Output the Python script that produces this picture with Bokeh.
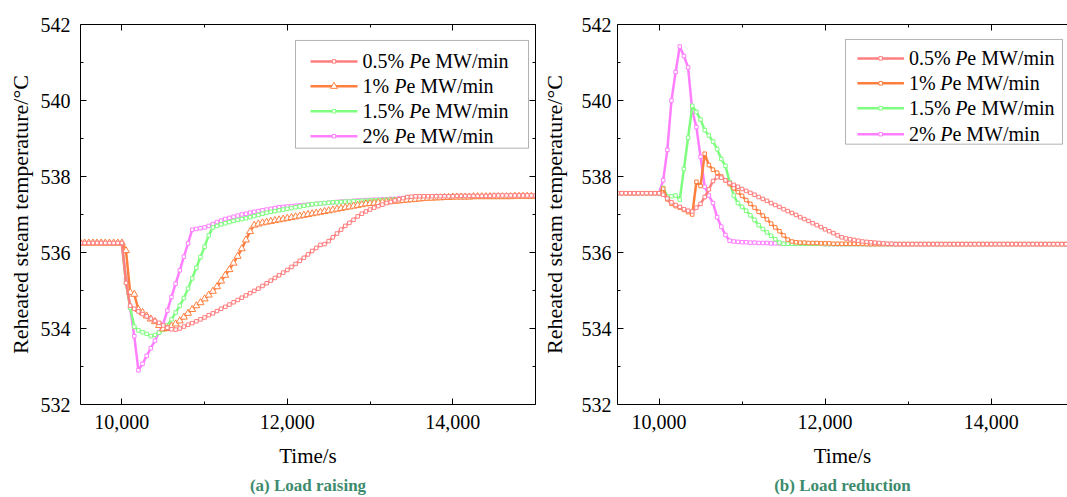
from bokeh.plotting import figure
from bokeh.layouts import row
from bokeh.models import (LinearAxis, FixedTicker, NumeralTickFormatter, Range1d,
                          BoxAnnotation, Label, Title, ColumnDataSource, CustomJSTickFormatter)
from bokeh.embed import file_html
from bokeh.resources import INLINE

# ---------------- data ----------------
time_s = list(range(9500, 15001, 50))

series_labels = ["0.5% ", "1% ", "1.5% ", "2% "]
y_ticks = [532, 534, 536, 538, 540, 542]
x_ticks = [10000, 12000, 14000]

# (a) Load raising
raise_05 = [
    536.25, 536.25, 536.25, 536.25, 536.25, 536.25, 536.25, 536.25, 536.25, 536.25,
    536.25, 535.2, 534.6, 534.52, 534.45, 534.38, 534.32, 534.26, 534.2, 534.15,
    534.08, 534.02, 533.98, 533.97, 534.0, 534.05, 534.1, 534.14, 534.19, 534.24,
    534.29, 534.35, 534.4, 534.46, 534.52, 534.57, 534.63, 534.69, 534.75, 534.81,
    534.87, 534.93, 534.99, 535.05, 535.12, 535.19, 535.26, 535.33, 535.4, 535.47,
    535.54, 535.62, 535.7, 535.78, 535.86, 535.95, 536.04, 536.12, 536.2, 536.22,
    536.3, 536.4, 536.5, 536.6, 536.7, 536.78, 536.86, 536.95, 537.02, 537.08,
    537.13, 537.18, 537.22, 537.26, 537.3, 537.33, 537.37, 537.4, 537.43, 537.46,
    537.47, 537.48, 537.48, 537.48, 537.48, 537.48, 537.48, 537.48, 537.48, 537.48,
    537.48, 537.49, 537.49, 537.49, 537.49, 537.49, 537.49, 537.49, 537.49, 537.49,
    537.5, 537.5, 537.5, 537.5, 537.5, 537.5, 537.5, 537.5, 537.5, 537.5,
    537.5,
]
raise_10 = [
    536.25, 536.25, 536.25, 536.25, 536.25, 536.25, 536.25, 536.25, 536.25, 536.25,
    536.25, 536.05, 534.95, 534.9, 534.5, 534.42, 534.33, 534.25, 534.18, 534.08,
    533.99, 534.0, 534.06, 534.12, 534.2, 534.3, 534.4, 534.5, 534.6, 534.68,
    534.78, 534.88, 534.98, 535.1, 535.25, 535.4, 535.55, 535.72, 535.9, 536.1,
    536.33, 536.55, 536.72, 536.75, 536.78, 536.8, 536.82, 536.84, 536.86, 536.88,
    536.9, 536.92, 536.94, 536.96, 536.98, 537.0, 537.02, 537.04, 537.06, 537.08,
    537.1, 537.12, 537.14, 537.16, 537.18, 537.2, 537.22, 537.24, 537.26, 537.28,
    537.29, 537.3, 537.31, 537.32, 537.33, 537.34, 537.35, 537.36, 537.37, 537.38,
    537.39, 537.4, 537.41, 537.42, 537.43, 537.43, 537.44, 537.44, 537.45, 537.45,
    537.46, 537.46, 537.46, 537.46, 537.46, 537.47, 537.47, 537.47, 537.47, 537.47,
    537.47, 537.47, 537.47, 537.47, 537.47, 537.48, 537.48, 537.48, 537.48, 537.48,
    537.48,
]
raise_15 = [
    536.25, 536.25, 536.25, 536.25, 536.25, 536.25, 536.25, 536.25, 536.25, 536.25,
    536.25, 535.2, 534.55, 534.05, 533.95, 533.9, 533.86, 533.8, 533.83, 533.89,
    533.97, 534.08, 534.24, 534.42, 534.6, 534.8, 535.05, 535.32, 535.6, 535.88,
    536.15, 536.45, 536.66, 536.7, 536.74, 536.77, 536.8, 536.83, 536.86, 536.88,
    536.9, 536.93, 536.96, 536.99, 537.02, 537.05, 537.07, 537.09, 537.11, 537.13,
    537.15, 537.17, 537.19, 537.21, 537.23, 537.25, 537.27, 537.28, 537.29, 537.3,
    537.31, 537.32, 537.32, 537.33, 537.34, 537.34, 537.35, 537.35, 537.36, 537.36,
    537.37, 537.37, 537.38, 537.38, 537.39, 537.39, 537.4, 537.4, 537.41, 537.42,
    537.43, 537.44, 537.44, 537.45, 537.45, 537.46, 537.46, 537.47, 537.47, 537.47,
    537.48, 537.48, 537.48, 537.48, 537.48, 537.48, 537.48, 537.48, 537.48, 537.48,
    537.49, 537.49, 537.49, 537.49, 537.49, 537.49, 537.49, 537.49, 537.49, 537.49,
    537.49,
]
raise_20 = [
    536.25, 536.25, 536.25, 536.25, 536.25, 536.25, 536.25, 536.25, 536.25, 536.25,
    536.25, 535.3, 534.55, 533.8, 532.9, 533.07, 533.28, 533.48, 533.68, 533.9,
    534.12, 534.47, 534.83, 535.18, 535.53, 535.89, 536.24, 536.6, 536.62, 536.64,
    536.66, 536.7, 536.75, 536.8, 536.84, 536.88, 536.91, 536.94, 536.97, 537.0,
    537.02, 537.05, 537.07, 537.09, 537.11, 537.13, 537.15, 537.17, 537.19, 537.2,
    537.21, 537.22, 537.23, 537.24, 537.25, 537.26, 537.27, 537.28, 537.29, 537.3,
    537.31, 537.32, 537.33, 537.34, 537.35, 537.35, 537.36, 537.37, 537.37, 537.38,
    537.38, 537.39, 537.39, 537.4, 537.4, 537.41, 537.41, 537.42, 537.42, 537.43,
    537.44, 537.44, 537.45, 537.45, 537.46, 537.46, 537.47, 537.47, 537.47, 537.48,
    537.48, 537.48, 537.48, 537.48, 537.48, 537.48, 537.48, 537.48, 537.48, 537.48,
    537.49, 537.49, 537.49, 537.49, 537.49, 537.49, 537.49, 537.49, 537.49, 537.49,
    537.49,
]

# (b) Load reduction
reduce_05 = [
    537.56, 537.56, 537.56, 537.56, 537.56, 537.56, 537.56, 537.56, 537.56, 537.56,
    537.56, 537.52, 537.42, 537.32, 537.25, 537.2, 537.14, 537.1, 537.08, 537.18,
    537.28, 537.46, 537.66, 537.88, 537.98, 537.97, 537.9, 537.83, 537.78, 537.73,
    537.67, 537.62, 537.57, 537.52, 537.46, 537.41, 537.36, 537.3, 537.25, 537.2,
    537.14, 537.09, 537.04, 536.99, 536.93, 536.88, 536.83, 536.77, 536.72, 536.67,
    536.61, 536.56, 536.51, 536.45, 536.4, 536.37, 536.35, 536.33, 536.31, 536.29,
    536.28, 536.27, 536.26, 536.25, 536.24, 536.23, 536.23, 536.22, 536.22, 536.22,
    536.22, 536.22, 536.22, 536.22, 536.22, 536.22, 536.22, 536.22, 536.22, 536.22,
    536.22, 536.22, 536.22, 536.22, 536.22, 536.22, 536.22, 536.22, 536.22, 536.22,
    536.22, 536.22, 536.22, 536.22, 536.22, 536.22, 536.22, 536.22, 536.22, 536.22,
    536.22, 536.22, 536.22, 536.22, 536.22, 536.22, 536.22, 536.22, 536.22, 536.22,
    536.22,
]
reduce_10 = [
    537.56, 537.56, 537.56, 537.56, 537.56, 537.56, 537.56, 537.56, 537.56, 537.56,
    537.56, 537.68, 537.4, 537.28, 537.22, 537.18, 537.12, 537.06, 537.0, 537.86,
    537.75, 538.6, 538.3, 538.18, 538.1, 538.0, 537.9, 537.8, 537.69, 537.59,
    537.49, 537.38, 537.28, 537.18, 537.07, 536.97, 536.87, 536.76, 536.66, 536.56,
    536.45, 536.34, 536.29, 536.27, 536.26, 536.26, 536.25, 536.25, 536.25, 536.24,
    536.24, 536.24, 536.23, 536.23, 536.23, 536.23, 536.23, 536.23, 536.23, 536.23,
    536.22, 536.22, 536.22, 536.22, 536.22, 536.22, 536.22, 536.22, 536.22, 536.22,
    536.22, 536.22, 536.22, 536.22, 536.22, 536.22, 536.22, 536.22, 536.22, 536.22,
    536.22, 536.22, 536.22, 536.22, 536.22, 536.22, 536.22, 536.22, 536.22, 536.22,
    536.22, 536.22, 536.22, 536.22, 536.22, 536.22, 536.22, 536.22, 536.22, 536.22,
    536.22, 536.22, 536.22, 536.22, 536.22, 536.22, 536.22, 536.22, 536.22, 536.22,
    536.22,
]
reduce_15 = [
    537.56, 537.56, 537.56, 537.56, 537.56, 537.56, 537.56, 537.56, 537.56, 537.56,
    537.56, 537.7, 537.47, 537.48, 537.5, 537.39, 538.2, 539.02, 539.86, 539.7,
    539.5, 539.22, 539.08, 538.92, 538.72, 538.46, 538.28, 537.86, 537.5, 537.3,
    537.2, 537.1, 536.98, 536.86, 536.72, 536.62, 536.53, 536.44, 536.35, 536.26,
    536.23, 536.23, 536.23, 536.23, 536.23, 536.23, 536.23, 536.23, 536.23, 536.23,
    536.22, 536.22, 536.22, 536.22, 536.22, 536.22, 536.22, 536.22, 536.22, 536.22,
    536.22, 536.22, 536.22, 536.22, 536.22, 536.22, 536.22, 536.22, 536.22, 536.22,
    536.22, 536.22, 536.22, 536.22, 536.22, 536.22, 536.22, 536.22, 536.22, 536.22,
    536.22, 536.22, 536.22, 536.22, 536.22, 536.22, 536.22, 536.22, 536.22, 536.22,
    536.22, 536.22, 536.22, 536.22, 536.22, 536.22, 536.22, 536.22, 536.22, 536.22,
    536.22, 536.22, 536.22, 536.22, 536.22, 536.22, 536.22, 536.22, 536.22, 536.22,
    536.22,
]
reduce_20 = [
    537.56, 537.56, 537.56, 537.56, 537.56, 537.56, 537.56, 537.56, 537.56, 537.56,
    537.56, 537.9, 538.7, 540.0, 540.75, 541.42, 541.17, 540.87, 539.74, 539.3,
    538.52, 537.73, 537.5, 537.3, 536.93, 536.68, 536.46, 536.31, 536.29, 536.28,
    536.27, 536.27, 536.26, 536.26, 536.25, 536.25, 536.25, 536.24, 536.24, 536.24,
    536.23, 536.23, 536.23, 536.23, 536.23, 536.23, 536.23, 536.23, 536.23, 536.23,
    536.22, 536.22, 536.22, 536.22, 536.22, 536.22, 536.22, 536.22, 536.22, 536.22,
    536.22, 536.22, 536.22, 536.22, 536.22, 536.22, 536.22, 536.22, 536.22, 536.22,
    536.22, 536.22, 536.22, 536.22, 536.22, 536.22, 536.22, 536.22, 536.22, 536.22,
    536.22, 536.22, 536.22, 536.22, 536.22, 536.22, 536.22, 536.22, 536.22, 536.22,
    536.22, 536.22, 536.22, 536.22, 536.22, 536.22, 536.22, 536.22, 536.22, 536.22,
    536.22, 536.22, 536.22, 536.22, 536.22, 536.22, 536.22, 536.22, 536.22, 536.22,
    536.22,
]

# ---------------- style ----------------
FONT = "Liberation Serif"
C05, C10, C15, C20 = "#FF7F7F", "#FF7F3F", "#7FFF7F", "#FF7FFF"
CAPTION_COLOR = "#3d8b6d"
H = 497
FRAME_H = 381
TOP = 24


def style_axis(ax, labels=True, standoff=8):
    ax.axis_line_color = "black"
    ax.axis_line_width = 1
    ax.major_tick_in = 6
    ax.major_tick_out = 0
    ax.minor_tick_in = 3
    ax.minor_tick_out = 0
    ax.major_tick_line_color = "black"
    ax.minor_tick_line_color = "black"
    ax.major_label_text_font = FONT
    ax.major_label_text_font_size = "20px"
    ax.major_label_text_color = "black"
    ax.major_label_standoff = standoff
    ax.axis_label_text_font = FONT
    ax.axis_label_text_font_style = "normal"
    ax.axis_label_text_color = "black"
    if not labels:
        ax.formatter = CustomJSTickFormatter(code="return '';")
        ax.major_label_text_font_size = "0px"
        ax.major_label_standoff = 0


def make_fig(width, left_border, right_border, x_end, frame_w, right_axis, ystandoff,
             ylabel_standoff, caption):
    xt = FixedTicker(ticks=x_ticks, minor_ticks=[9000, 11000, 13000, 15000])
    yt = FixedTicker(ticks=y_ticks, minor_ticks=[533, 535, 537, 539, 541])
    p = figure(width=width, height=H, x_range=Range1d(9500, x_end), y_range=Range1d(532, 542),
               output_backend="svg", toolbar_location=None,
               min_border_left=left_border, min_border_right=right_border,
               min_border_top=TOP, min_border_bottom=H - TOP - FRAME_H,
               x_axis_label="Time/s", y_axis_label="Reheated steam temperature/°C")
    p.outline_line_color = None
    p.xgrid.visible = False
    p.ygrid.visible = False
    p.background_fill_color = "white"
    p.border_fill_color = "white"
    xa = p.xaxis[0]
    ya = p.yaxis[0]
    xa.ticker = xt
    ya.ticker = yt
    xa.formatter = NumeralTickFormatter(format="0,0")
    style_axis(xa, standoff=10)
    style_axis(ya, standoff=ystandoff)
    xa.axis_label_text_font_size = "21px"
    xa.axis_label_standoff = 12
    ya.axis_label_text_font_size = "22px"
    ya.axis_label_standoff = ylabel_standoff
    top = LinearAxis(ticker=xt)
    style_axis(top, labels=False)
    p.add_layout(top, "above")
    if right_axis:
        ra = LinearAxis(ticker=yt)
        style_axis(ra, labels=False)
        p.add_layout(ra, "right")
    cap = Title(text=caption, align="center", text_font=FONT, text_font_size="17px",
                text_font_style="bold", text_color=CAPTION_COLOR, standoff=6)
    p.add_layout(cap, "below")
    geo = dict(x0=9500, x1=x_end, W=frame_w)
    return p, geo


def to_data(geo, dx, dy):
    x = geo["x0"] + dx / geo["W"] * (geo["x1"] - geo["x0"])
    y = 542 - dy / FRAME_H * (542 - 532)
    return x, y


def draw_series(p, src, keys, colors, markers):
    for k, c, m in zip(keys, colors, markers):
        p.line("t", k, source=src, line_color=c, line_width=2.5)
        if m == "triangle":
            p.scatter("t", k, source=src, marker="triangle", size=7, line_color=c,
                      line_width=1, fill_color="white")
        else:
            p.scatter("t", k, source=src, marker="square", size=3.5, line_color=c,
                      line_width=1, fill_color="white")


def draw_legend(p, geo, box, rows, sample, text_x, colors, markers):
    bx0, by0 = to_data(geo, box[0], box[1])
    bx1, by1 = to_data(geo, box[2], box[3])
    p.add_layout(BoxAnnotation(left=bx0, right=bx1, top=by0, bottom=by1, fill_color="white",
                               fill_alpha=1, line_color="black", line_width=1, level="underlay"))
    pre_w = {"0.5% ": 46.7, "1% ": 31.7, "1.5% ": 46.7, "2% ": 31.7}
    for lab, ry, c, m in zip(series_labels, rows, colors, markers):
        xa, y = to_data(geo, sample[0], ry)
        xb, _ = to_data(geo, sample[1], ry)
        xm, _ = to_data(geo, (sample[0] + sample[1]) / 2, ry)
        p.line([xa, xb], [y, y], line_color=c, line_width=2.5)
        if m == "triangle":
            p.scatter([xm], [y], marker="triangle", size=7, line_color=c, fill_color="white")
        else:
            p.scatter([xm], [y], marker="square", size=3.5, line_color=c, fill_color="white")
        pieces = [(lab, "normal", 0.0), ("P", "italic", pre_w[lab]),
                  ("e MW/min", "normal", pre_w[lab] + 12.2)]
        for txt, style, off in pieces:
            tx, _ = to_data(geo, text_x + off, ry)
            p.add_layout(Label(x=tx, y=y, text=txt, text_font=FONT, text_font_size="20px",
                               text_font_style=style, text_baseline="middle", text_align="left",
                               text_color="black"))


colors = [C20, C15, C10, C05]

# left figure: frame 80..535
src_a = ColumnDataSource(dict(t=time_s, r05=raise_05, r10=raise_10, r15=raise_15, r20=raise_20))
p1, g1 = make_fig(538, 80, 3, 15000, 455, True, 10, 5, "(a) Load raising")
draw_series(p1, src_a, ["r20", "r15", "r10", "r05"], colors, ["square", "square", "triangle", "square"])
draw_legend(p1, g1, (215, 16, 448, 124), [37, 62, 87, 112], (230, 277), 282,
            [C05, C10, C15, C20], ["square", "triangle", "square", "square"])

# right figure: frame 613..1067
src_b = ColumnDataSource(dict(t=time_s, r05=reduce_05, r10=reduce_10, r15=reduce_15, r20=reduce_20))
p2, g2 = make_fig(529, 75, 0, 14919, 454, False, 6, 12, "(b) Load reduction")
draw_series(p2, src_b, ["r20", "r15", "r10", "r05"], colors, ["square", "square", "square", "square"])
draw_legend(p2, g2, (230, 15, 449, 120), [34, 59, 84, 110], (242, 289), 294,
            [C05, C10, C15, C20], ["square", "square", "square", "square"])

layout = row(p1, p2)
open("out.html", "w").write(file_html(layout, INLINE))
